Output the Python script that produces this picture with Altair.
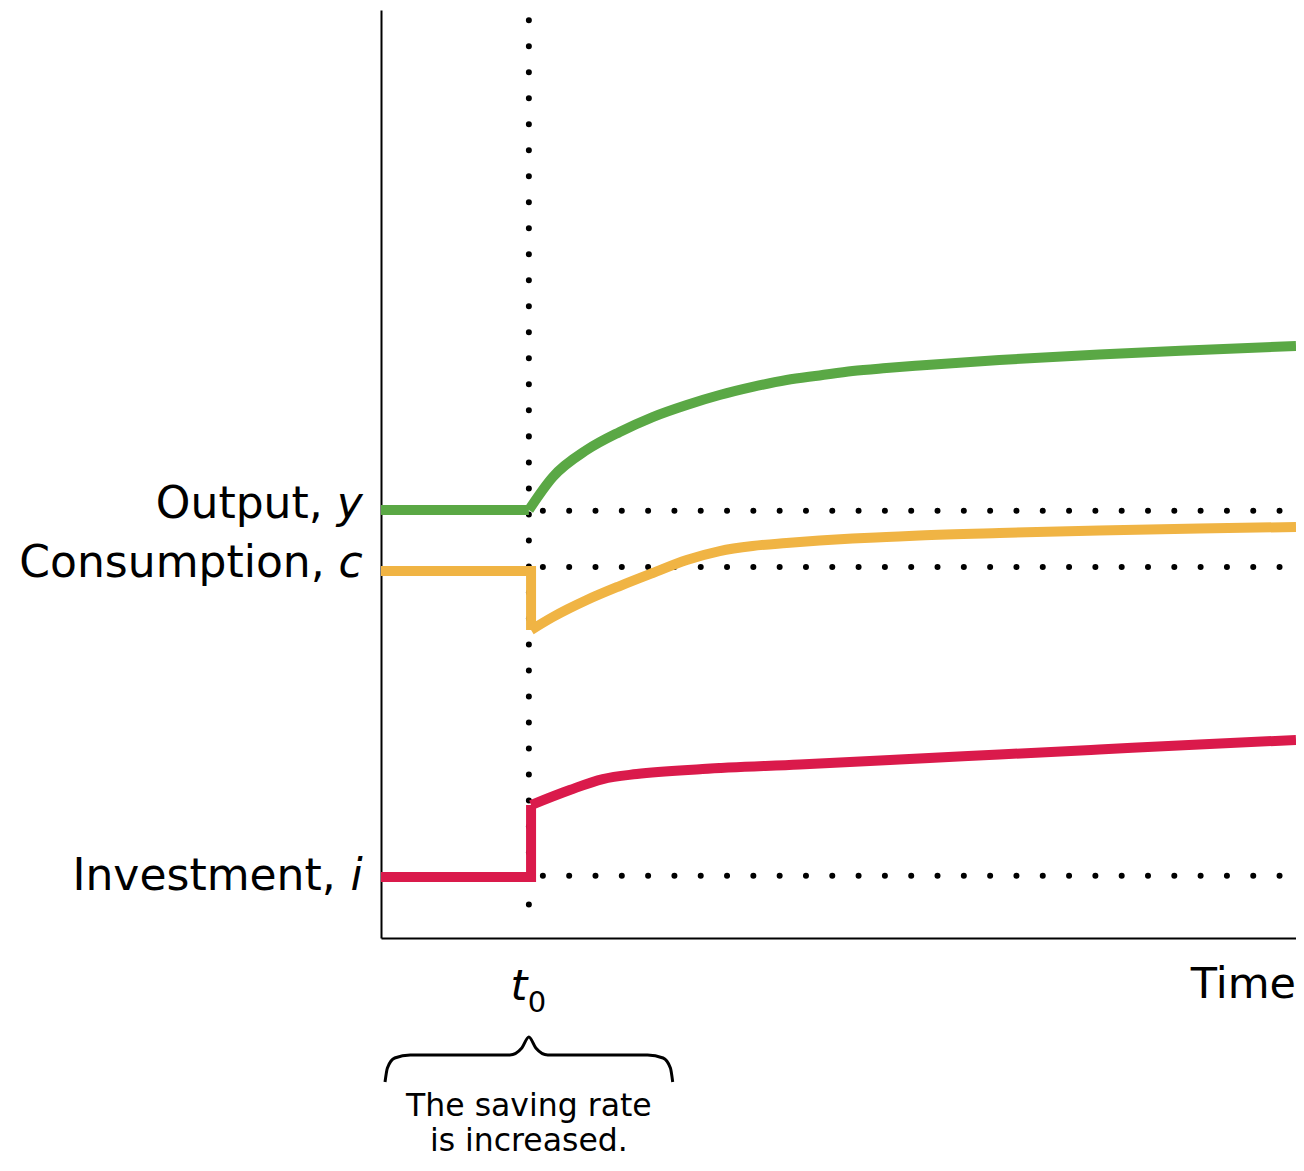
import altair as alt
import pandas as pd

# ---- data (time index 0..100, level index 0..100) ----
T0 = 16.16      # the saving rate is increased
TJ = 16.40      # where the jumps happen

# pre-t0 flat levels
flat_green, flat_yellow, flat_red = 46.12, 39.55, 6.57

curve_x = [16.16, 18.78, 22.49, 26.09, 29.69, 33.41, 37.01, 40.61, 44.32, 47.93, 51.53, 55.24, 58.84, 67.58, 78.49, 89.41, 100]
green_y = [46.12, 49.68, 52.59, 54.53, 56.14, 57.44, 58.51, 59.38, 60.13, 60.62, 61.10, 61.42, 61.69, 62.28, 62.88, 63.36, 63.79]
yellow_y = [33.19, 34.59, 36.42, 37.93, 39.33, 40.73, 41.70, 42.24, 42.56, 42.83, 43.05, 43.21, 43.37, 43.64, 43.91, 44.13, 44.29]

red_x = [16.40, 20.63, 24.24, 27.95, 35.15, 45.74, 56.66, 67.58, 78.49, 89.41, 100]
red_y = [14.33, 15.95, 17.13, 17.67, 18.21, 18.70, 19.23, 19.77, 20.31, 20.85, 21.34]

ref_levels = [46.04, 39.98, 6.71]
ref_start = 17.69
ref_end = 98.5

vline_top = 98.9
vline_bottom = 1.08

labels = ["Output,", "Consumption,", "Investment,"]
label_vars = ["y", "c", "i"]
label_y = [45.26, 38.90, 5.17]
label_x = -2.0

brace_x = [0.44, 0.70, 1.50, 3.20, 14.08, 15.39, 16.16, 16.92, 18.23, 29.13, 30.83, 31.63, 31.88]
brace_y = [-15.52, -14.01, -12.93, -12.61, -12.61, -11.85, -10.67, -11.85, -12.61, -12.61, -12.93, -14.01, -15.52]

note_lines = ["The saving rate", "is increased."]
note_y = [-19.18, -22.95]

colors = {"Output": "#5aa845", "Consumption": "#f0b444", "Investment": "#da1a4b"}

FONT = "DejaVu Sans"

# step parts (flat then vertical jump)
step_rows = []
for name, pts in [
    ("Output", [(0, flat_green), (T0, flat_green)]),
    ("Consumption", [(0, flat_yellow), (TJ, flat_yellow), (TJ, yellow_y[0])]),
    ("Investment", [(0, flat_red), (TJ, flat_red), (TJ, red_y[0])]),
]:
    for k, (a, b) in enumerate(pts):
        step_rows.append({"series": name, "t": a, "v": b, "k": k})
step_df = pd.DataFrame(step_rows)

curve_rows = []
for name, xs_, ys_ in [
    ("Output", curve_x, green_y),
    ("Consumption", [TJ] + curve_x[1:], yellow_y),
    ("Investment", red_x, red_y),
]:
    for k, (a, b) in enumerate(zip(xs_, ys_)):
        curve_rows.append({"series": name, "t": a, "v": b, "k": k})
curve_df = pd.DataFrame(curve_rows)

xs = alt.Scale(domain=[0, 100], nice=False, zero=False)
ys = alt.Scale(domain=[0, 100], nice=False, zero=False)

axis_x = alt.Axis(labels=False, ticks=False, grid=False, title=None, domainColor="black", domainWidth=2)
axis_y = alt.Axis(labels=False, ticks=False, grid=False, title=None, domainColor="black", domainWidth=2)

color_enc = alt.Color("series:N", scale=alt.Scale(domain=list(colors.keys()), range=list(colors.values())), legend=None)

ref_df = pd.DataFrame({"v": ref_levels, "t": [ref_start] * 3, "t2": [ref_end] * 3})
refs = alt.Chart(ref_df).mark_rule(color="black", strokeWidth=6, strokeCap="round", strokeDash=[0.01, 26.3]).encode(
    x=alt.X("t:Q", scale=xs, axis=axis_x), x2="t2:Q", y=alt.Y("v:Q", scale=ys, axis=axis_y)
)

vdf = pd.DataFrame({"t": [T0], "a": [vline_top], "b": [vline_bottom]})
vline = alt.Chart(vdf).mark_rule(color="black", strokeWidth=6, strokeCap="round", strokeDash=[0.01, 26.0]).encode(
    x=alt.X("t:Q", scale=xs), y=alt.Y("a:Q", scale=ys), y2="b:Q"
)

steps = alt.Chart(step_df).mark_line(strokeWidth=10, strokeJoin="miter", strokeCap="butt").encode(
    x=alt.X("t:Q", scale=xs), y=alt.Y("v:Q", scale=ys), color=color_enc, order="k:Q"
)
curves = alt.Chart(curve_df).mark_line(strokeWidth=10, strokeCap="butt", interpolate="monotone").encode(
    x=alt.X("t:Q", scale=xs), y=alt.Y("v:Q", scale=ys), color=color_enc, order="k:Q"
)

# labels: regular part + italic variable
var_dx = {"y": -40, "c": -38, "i": -27}
label_layers = []
for lab, var, yv in zip(labels, label_vars, label_y):
    d = pd.DataFrame({"t": [label_x], "v": [yv], "s": [lab], "m": [var]})
    label_layers.append(
        alt.Chart(d).mark_text(align="right", baseline="alphabetic", font=FONT, fontSize=44, color="black", dx=var_dx[var]).encode(
            x=alt.X("t:Q", scale=xs), y=alt.Y("v:Q", scale=ys), text="s:N"
        )
    )
    label_layers.append(
        alt.Chart(d).mark_text(align="right", baseline="alphabetic", font=FONT, fontSize=44, fontStyle="italic", color="black").encode(
            x=alt.X("t:Q", scale=xs), y=alt.Y("v:Q", scale=ys), text="m:N"
        )
    )

time_df = pd.DataFrame({"t": [100], "v": [-6.47], "s": ["Time"]})
time_txt = alt.Chart(time_df).mark_text(align="right", baseline="alphabetic", font=FONT, fontSize=43, color="black").encode(
    x=alt.X("t:Q", scale=xs), y=alt.Y("v:Q", scale=ys), text="s:N"
)

t_df = pd.DataFrame({"t": [T0], "v": [-6.68], "s": ["t"]})
t_txt = alt.Chart(t_df).mark_text(align="center", baseline="alphabetic", font=FONT, fontSize=43, fontStyle="italic", color="black", dx=-10).encode(
    x=alt.X("t:Q", scale=xs), y=alt.Y("v:Q", scale=ys), text="s:N"
)
sub_df = pd.DataFrame({"t": [T0], "v": [-7.97], "s": ["0"]})
sub_txt = alt.Chart(sub_df).mark_text(align="center", baseline="alphabetic", font=FONT, fontSize=29, color="black", dx=8).encode(
    x=alt.X("t:Q", scale=xs), y=alt.Y("v:Q", scale=ys), text="s:N"
)

brace_df = pd.DataFrame({"t": brace_x, "v": brace_y, "k": list(range(len(brace_x)))})
brace = alt.Chart(brace_df).mark_line(color="black", strokeWidth=3, interpolate="monotone").encode(
    x=alt.X("t:Q", scale=xs), y=alt.Y("v:Q", scale=ys), order="k:Q"
)

note_df = pd.DataFrame({"t": [T0, T0], "v": note_y, "s": note_lines})
note = alt.Chart(note_df).mark_text(align="center", baseline="alphabetic", font=FONT, fontSize=31.5, color="black").encode(
    x=alt.X("t:Q", scale=xs), y=alt.Y("v:Q", scale=ys), text="s:N"
)

chart = alt.layer(
    refs, vline, steps, curves, *label_layers, time_txt, t_txt, sub_txt, brace, note
).properties(
    width=915, height=928,
    autosize=alt.AutoSizeParams(type="none"),
    padding={"left": 373, "top": 2, "right": 0, "bottom": 222},
).configure_view(stroke=None)

chart.save("out.html", embed_options={"renderer": "svg", "actions": False})
